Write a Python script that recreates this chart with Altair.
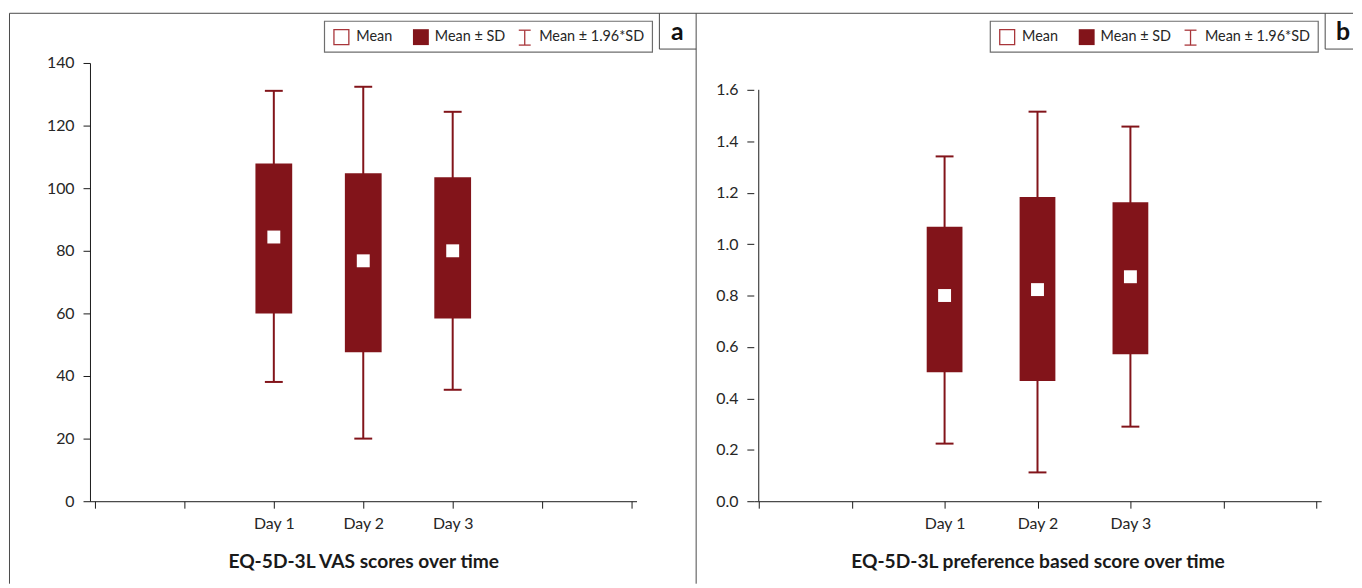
import altair as alt
import pandas as pd

# ---------------- data ----------------
days = ["Day 1", "Day 2", "Day 3"]
day_pos = [2, 3, 4]
x_ticks = [0, 1, 2, 3, 4, 5, 6]

vas_mean = [84.4, 76.8, 80.0]
vas_sd_lo = [60.0, 47.6, 58.4]
vas_sd_hi = [107.9, 104.8, 103.5]
vas_ci_lo = [38.1, 20.0, 35.6]
vas_ci_hi = [131.1, 132.4, 124.4]
vas_ticks = [0, 20, 40, 60, 80, 100, 120, 140]

pref_mean = [0.800, 0.823, 0.873]
pref_sd_lo = [0.502, 0.468, 0.572]
pref_sd_hi = [1.067, 1.183, 1.163]
pref_ci_lo = [0.224, 0.112, 0.290]
pref_ci_hi = [1.341, 1.515, 1.457]
pref_ticks = [0.0, 0.2, 0.4, 0.6, 0.8, 1.0, 1.2, 1.4, 1.6]

legend_labels = ["Mean", "Mean \u00b1 SD", "Mean \u00b1 1.96*SD"]
titles = ["EQ-5D-3L VAS scores over time",
          "EQ-5D-3L preference based score over time"]
letters = ["a", "b"]

# ---------------- styles ----------------
DARK = "#82141a"
LEGRED = "#a8353a"
FRAME = "#4a4a4a"
AXIS = "#1a1a1a"
FONT = "Lato"

H = 441
FRAME_BOTTOM = 524
one = pd.DataFrame({"k": [0]})

label_expr = ("datum.value == 2 ? '%s' : datum.value == 3 ? '%s' : "
              "datum.value == 4 ? '%s' : ''") % tuple(days)


def vline(x, y1, y2, color=FRAME, w=1):
    return alt.Chart(one).mark_rule(color=color, strokeWidth=w).encode(
        x=alt.value(x), y=alt.value(y1), y2=alt.value(y2))


def hline(x1, x2, y, color=FRAME, w=1):
    return alt.Chart(one).mark_rule(color=color, strokeWidth=w).encode(
        x=alt.value(x1), x2=alt.value(x2), y=alt.value(y))


def label(x, y, txt, size=14.5, weight="normal", align="left", color="#262626"):
    return alt.Chart(one).mark_text(
        align=align, baseline="middle", font=FONT, fontSize=size,
        fontWeight=weight, color=color).encode(
        x=alt.value(x), y=alt.value(y), text=alt.value(txt))


def box(x1, x2, y1, y2, fill, stroke, sw=1):
    return alt.Chart(one).mark_rect(fill=fill, stroke=stroke, strokeWidth=sw).encode(
        x=alt.value(x1), x2=alt.value(x2), y=alt.value(y1), y2=alt.value(y2))


def legend(dx, letter, box_right):
    lx = 236 + dx
    parts = [
        box(lx, lx + 330, -42, -11, "white", "#6e6e6e", 1.2),
        box(lx + 9.5, lx + 24.5, -33.5, -18.5, "white", LEGRED, 1.3),
        label(lx + 32, -26, legend_labels[0]),
        box(lx + 89, lx + 105, -34, -18, DARK, DARK, 0),
        label(lx + 111, -26, legend_labels[1]),
        vline(lx + 201.5, -33, -18, LEGRED, 1.3),
        hline(lx + 195.5, lx + 207.5, -33, LEGRED, 1.3),
        hline(lx + 195.5, lx + 207.5, -18, LEGRED, 1.3),
        label(lx + 216, -26, legend_labels[2]),
        # letter box
        vline(573 + dx, -50, -14),
        hline(573 + dx, box_right, -14),
        label(591 + dx, -31, letter, size=25, weight="bold", align="center",
              color="#111111"),
    ]
    return parts


def panel(mean, sd_lo, sd_hi, ci_lo, ci_hi, yticks, ymax, width, title,
          fmt, box_w, axis_rule):
    df = pd.DataFrame({"pos": day_pos, "day": days, "mean": mean,
                       "sd_lo": sd_lo, "sd_hi": sd_hi,
                       "ci_lo": ci_lo, "ci_hi": ci_hi})
    base = alt.Chart(df)
    xaxis = alt.Axis(values=x_ticks, labelExpr=label_expr, title=title,
                     grid=False, tickSize=7, tickColor=AXIS, domainColor=AXIS,
                     labelFont=FONT, labelFontSize=16, labelColor="#262626",
                     labelPadding=7, labelFlush=False, labelOverlap=False,
                     titleFont=FONT, titleFontSize=19.3, titleFontWeight="bold",
                     titleColor="#1a1a1a", titlePadding=22)
    yaxis = alt.Axis(values=yticks, format=fmt, title=None, grid=False,
                     tickSize=7, tickColor=AXIS, domain=not axis_rule,
                     domainColor=AXIS, labelFont=FONT, labelFontSize=16,
                     labelColor="#262626", labelPadding=9)
    xs = alt.Scale(domain=[0, 6], nice=False, zero=False)
    ys = alt.Scale(domain=[0, ymax], nice=False, zero=False)

    def X():
        return alt.X("pos:Q", scale=xs, axis=xaxis)

    def Y(f):
        return alt.Y(f, scale=ys, axis=yaxis)

    layers = []
    if axis_rule:
        axis_df = pd.DataFrame({"x0": [0], "y0": [0], "y1": [yticks[-1]]})
        layers.append(alt.Chart(axis_df).mark_rule(color=AXIS, strokeWidth=1).encode(
            x=alt.X("x0:Q", scale=xs, axis=xaxis), y=Y("y0:Q"), y2="y1:Q"))
    layers += [
        base.mark_rule(color=DARK, strokeWidth=2).encode(x=X(), y=Y("ci_lo:Q"), y2="ci_hi:Q"),
        base.mark_tick(orient="horizontal", size=18, thickness=2, color=DARK,
                       opacity=1).encode(x=X(), y=Y("ci_hi:Q")),
        base.mark_tick(orient="horizontal", size=18, thickness=2, color=DARK,
                       opacity=1).encode(x=X(), y=Y("ci_lo:Q")),
        base.mark_bar(width=box_w, color=DARK, opacity=1).encode(
            x=X(), y=Y("sd_lo:Q"), y2="sd_hi:Q"),
        base.mark_square(size=169, color="white", opacity=1, filled=True).encode(
            x=X(), y=Y("mean:Q")),
    ]
    return layers, width


# frame (relative to panel a plot origin)
frame = [
    vline(-81, -50, FRAME_BOTTOM),
    hline(-81, 1271, -50),
    vline(610, -50, FRAME_BOTTOM),
]

la, wa = panel(vas_mean, vas_sd_lo, vas_sd_hi, vas_ci_lo, vas_ci_hi,
               vas_ticks, 140, 550, titles[0], "d", 37, False)
lb, wb = panel(pref_mean, pref_sd_lo, pref_sd_hi, pref_ci_lo, pref_ci_hi,
               pref_ticks, 1.6 * 441 / 414, 571, titles[1], ".1f", 36, True)

panel_a = alt.layer(*(frame + legend(0, letters[0], 610) +
                      legend(670, letters[1], 1271) + la)).properties(
    width=wa, height=H)
panel_b = alt.layer(*lb).properties(width=wb, height=H)

chart = alt.hconcat(panel_a, panel_b, spacing=118, bounds="flush").properties(
    padding={"left": 0.5, "top": 2.5, "right": 0, "bottom": 0},
    background="white",
).configure_view(stroke="transparent")

chart.save("out.html", embed_options={"renderer": "svg", "actions": False})
